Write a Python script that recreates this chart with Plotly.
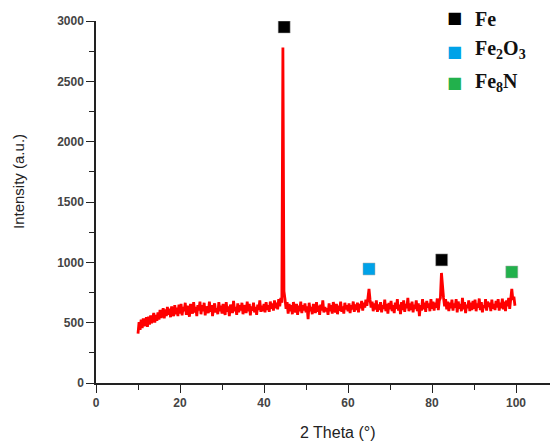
import numpy as np
import plotly.graph_objects as go

# XRD scan, 2-theta grid (step 0.25 deg) and intensities
two_theta = np.round(np.arange(10.0, 99.76, 0.25), 2)

intensity = [
    # 10 - 14.75
    410, 505, 440, 525, 455, 535, 470, 510, 545, 465, 550, 485, 560, 495, 535, 580, 500, 565, 515, 585,
    # 15 - 19.75
    525, 605, 540, 595, 620, 535, 610, 555, 630, 565, 615, 545, 635, 580, 555, 645, 570, 625, 555, 650,
    # 20 - 24.75
    575, 655, 560, 630, 595, 665, 565, 640, 590, 550, 655, 605, 575, 670, 585, 630, 555, 645, 600, 675,
    # 25 - 29.75
    570, 645, 595, 665, 560, 635, 605, 580, 675, 590, 645, 555, 630, 660, 585, 620, 570, 670, 595, 640,
    # 30 - 34.75
    575, 655, 600, 565, 670, 590, 635, 555, 650, 605, 580, 680, 595, 630, 565, 660, 585, 645, 600, 665,
    # 35 - 39.75
    570, 645, 610, 580, 675, 595, 655, 560, 635, 600, 665, 585, 630, 565, 650, 605, 685, 590, 640, 595,
    # 40 - 44.75
    655, 585, 670, 605, 645, 590, 675, 615, 660, 600, 685, 620, 665, 610, 695, 635, 705, 665, 2780, 760,
    # 45 - 49.75
    695, 615, 670, 575, 655, 595, 645, 570, 670, 605, 585, 655, 565, 640, 595, 675, 580, 645, 600, 660,
    # 50 - 54.75
    585, 635, 530, 665, 595, 630, 570, 655, 605, 580, 670, 590, 640, 565, 650, 600, 685, 585, 630, 595,
    # 55 - 59.75
    620, 565, 660, 595, 645, 575, 670, 605, 585, 655, 570, 640, 600, 675, 590, 635, 575, 665, 610, 645,
    # 60 - 64.75
    595, 660, 580, 645, 610, 675, 590, 650, 605, 665, 585, 655, 620, 680, 600, 665, 625, 690, 640, 705,
    # 65 - 69.75
    780, 690, 625, 675, 595, 660, 610, 685, 590, 650, 605, 670, 585, 645, 615, 690, 595, 655, 575, 665,
    # 70 - 74.75
    610, 680, 595, 645, 580, 665, 615, 695, 600, 650, 570, 670, 605, 685, 590, 655, 620, 705, 595, 660,
    # 75 - 79.75
    605, 675, 585, 650, 615, 685, 595, 660, 555, 645, 600, 695, 610, 665, 590, 680, 625, 660, 595, 695,
    # 80 - 84.75
    615, 675, 600, 665, 625, 700, 605, 685, 705, 912, 770, 705, 635, 695, 610, 675, 595, 665, 620, 690,
    # 85 - 89.75
    600, 660, 625, 695, 585, 675, 615, 655, 595, 705, 610, 670, 580, 650, 620, 685, 595, 665, 605, 680,
    # 90 - 94.75
    615, 690, 595, 660, 625, 700, 605, 670, 585, 645, 620, 695, 600, 675, 630, 665, 595, 690, 615, 655,
    # 95 - 99.75
    605, 680, 625, 695, 600, 665, 620, 700, 610, 675, 595, 685, 635, 705, 615, 725, 779, 690, 715, 640,
]

# phase markers above the peaks
fe_x = [44.8, 82.3]
fe_y = [2950, 1020]
fe2o3_x = [65.0]
fe2o3_y = [945]
fe8n_x = [99.0]
fe8n_y = [920]

# key (label, colour) for the phase legend in the top right corner
phase_labels = ["<b>Fe</b>", "<b>Fe<sub>2</sub>O<sub>3</sub></b>", "<b>Fe<sub>8</sub>N</b>"]
phase_colors = ["#000000", "#00a2e8", "#22b14c"]

fig = go.Figure()

fig.add_trace(go.Scatter(
    x=two_theta, y=intensity, mode="lines",
    line=dict(color="#ff0000", width=2.8),
    showlegend=False, hoverinfo="skip",
))

for xs, ys, col in [(fe_x, fe_y, phase_colors[0]),
                    (fe2o3_x, fe2o3_y, phase_colors[1]),
                    (fe8n_x, fe8n_y, phase_colors[2])]:
    fig.add_trace(go.Scatter(
        x=xs, y=ys, mode="markers", showlegend=False,
        marker=dict(symbol="square", size=12, color=col,
                    line=dict(color="#aaaaaa", width=0.5)),
    ))

axis_font = dict(family="Liberation Sans, Arial", size=12, color="#444444", weight="bold")

# page has an 8px body margin, so the figure is 550x433 and sits at (8, 8)
# plot area on screen: x 96..558, y 21 (3000) .. 383 (0)
fig.update_xaxes(
    range=[0, 110], tickmode="array", tickvals=[0, 20, 40, 60, 80, 100],
    ticks="outside", ticklen=8, tickwidth=1.2, tickcolor="#222",
    minor=dict(tickvals=[10, 30, 50, 70, 90, 110], ticks="outside", ticklen=5,
               tickwidth=1.2, tickcolor="#222"),
    showline=True, linecolor="#222", linewidth=1.5,
    showgrid=False, zeroline=False, tickfont=axis_font, automargin=False,
)
fig.update_yaxes(
    range=[0, 3000], tickmode="array", tickvals=[0, 500, 1000, 1500, 2000, 2500, 3000],
    domain=[0, 362 / 375],
    ticks="outside", ticklen=8, tickwidth=1.2, tickcolor="#222",
    minor=dict(tickvals=[250, 750, 1250, 1750, 2250, 2750], ticks="outside", ticklen=5,
               tickwidth=1.2, tickcolor="#222"),
    showline=True, linecolor="#222", linewidth=1.5,
    showgrid=False, zeroline=False, tickfont=axis_font, automargin=False,
)

# hand-built legend (keys + labels) so it can sit right at the top edge
key_rows_y = [10, 44, 74]    # figure px from top
label_rows_y = [11, 42, 74]  # labels with subscripts sit a bit higher
annotations = []
for lab, col, ky, ly in zip(phase_labels, phase_colors, key_rows_y, label_rows_y):
    annotations.append(dict(
        text="■", xref="paper", yref="paper", x=(446 - 88) / 462, y=(375 - ky) / 375,
        xanchor="center", yanchor="middle", showarrow=False,
        font=dict(family="DejaVu Sans", size=16, color=col)))
    annotations.append(dict(
        text=lab, xref="paper", yref="paper", x=(465 - 88) / 462, y=(375 - ly) / 375,
        xanchor="left", yanchor="middle", showarrow=False,
        font=dict(family="Liberation Serif, Times New Roman", size=20, color="#111")))

annotations += [
    dict(text="Intensity (a.u.)", xref="paper", yref="paper", x=(10 - 88) / 462, y=(375 - 174) / 375,
         textangle=-90, showarrow=False, xanchor="center", yanchor="middle",
         font=dict(family="Liberation Sans, Arial", size=15, color="#222")),
    dict(text="2 Theta (°)", xref="paper", yref="paper", x=(329 - 88) / 462, y=-49 / 375,
         showarrow=False, xanchor="center", yanchor="middle",
         font=dict(family="Liberation Sans, Arial", size=16, color="#222")),
]

fig.update_layout(
    width=550, height=433,
    margin=dict(l=88, r=0, t=0, b=58),
    plot_bgcolor="white", paper_bgcolor="white",
    showlegend=False,
    annotations=annotations,
)

fig.write_html("out.html")
